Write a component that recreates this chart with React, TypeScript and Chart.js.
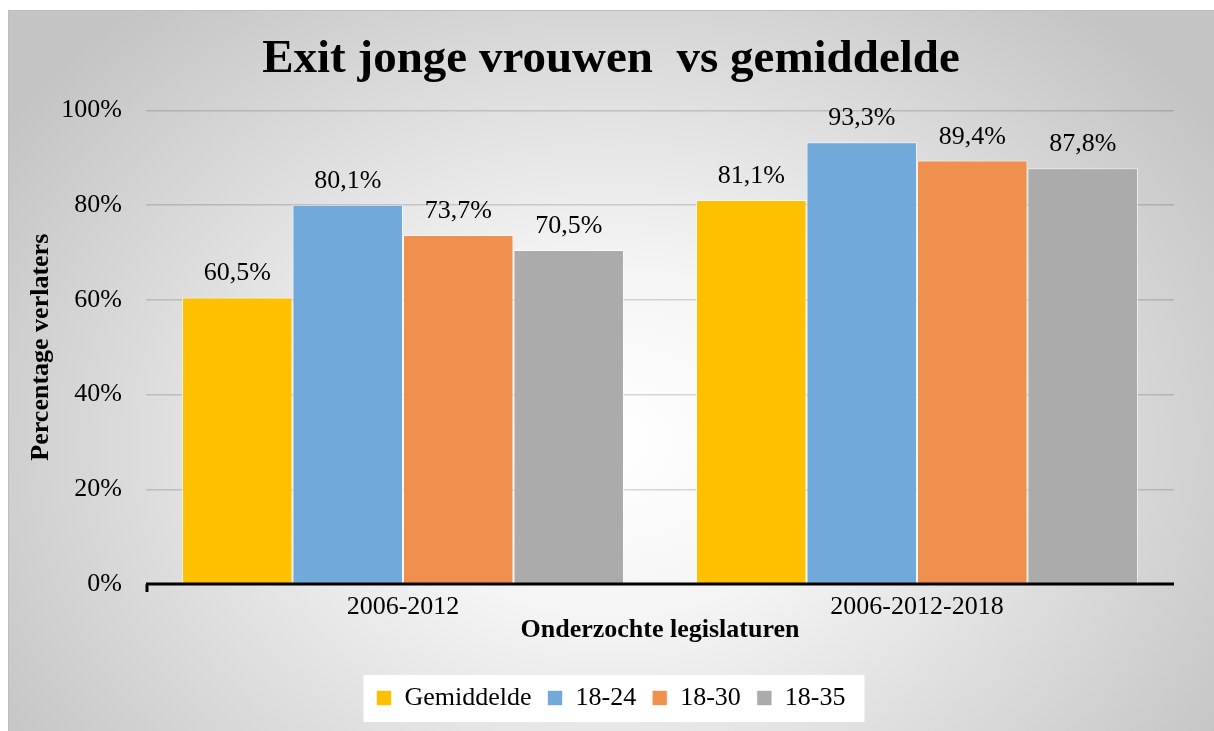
import React, { useEffect, useRef } from 'react';
import { Chart, registerables } from 'chart.js';

Chart.register(...registerables);

const titleText = 'Exit jonge vrouwen  vs gemiddelde';
const categories = ['2006-2012', '2006-2012-2018'];
const seriesNames = ['Gemiddelde', '18-24', '18-30', '18-35'];
const gemiddelde = [60.5, 81.1];
const age18_24 = [80.1, 93.3];
const age18_30 = [73.7, 89.4];
const age18_35 = [70.5, 87.8];
const yTickValues = [0, 20, 40, 60, 80, 100];
const seriesColors = ['#FFC000', '#71A9DB', '#F0904F', '#ABABAB'];
const yTitle = 'Percentage verlaters';
const xTitle = 'Onderzochte legislaturen';

const FONT = "'Liberation Serif', 'Times New Roman', serif";

const fmt = (v: number) => v.toFixed(1).replace('.', ',') + '%';

const legendBoxPlugin = {
  id: 'legendBox',
  beforeDraw(chart: any) {
    const lg = chart.legend;
    if (!lg || !lg.legendHitBoxes || !lg.legendHitBoxes.length) return;
    const hb = lg.legendHitBoxes;
    const first = hb[0];
    const last = hb[hb.length - 1];
    const cy = first.top + first.height / 2;
    const ctx = chart.ctx;
    ctx.save();
    ctx.fillStyle = '#ffffff';
    ctx.fillRect(first.left - 13, cy - 23, last.left + last.width - first.left + 32, 47);
    ctx.restore();
  },
};

const dataLabelPlugin = {
  id: 'dataLabels',
  afterDatasetsDraw(chart: any) {
    const ctx = chart.ctx;
    ctx.save();
    ctx.font = `26px ${FONT}`;
    ctx.fillStyle = '#000';
    ctx.textAlign = 'center';
    ctx.textBaseline = 'alphabetic';
    chart.data.datasets.forEach((ds: any, di: number) => {
      const meta = chart.getDatasetMeta(di);
      meta.data.forEach((el: any, i: number) => {
        ctx.fillText(fmt(ds.data[i]), el.x, el.y - 17);
      });
    });
    ctx.restore();
  },
};

const axisLinePlugin = {
  id: 'axisLine',
  afterDatasetsDraw(chart: any) {
    const { ctx, chartArea } = chart;
    const y = chart.scales.y.getPixelForValue(0);
    ctx.save();
    ctx.strokeStyle = '#000';
    ctx.lineWidth = 3;
    ctx.beginPath();
    ctx.moveTo(chartArea.left, y);
    ctx.lineTo(chartArea.right, y);
    ctx.stroke();
    ctx.beginPath();
    ctx.moveTo(chartArea.left + 1, y);
    ctx.lineTo(chartArea.left + 1, y + 8);
    ctx.stroke();
    ctx.restore();
  },
};

export default function App() {
  const ref = useRef<HTMLCanvasElement | null>(null);

  useEffect(() => {
    if (!ref.current) return;
    const seriesValues = [gemiddelde, age18_24, age18_30, age18_35];
    const chart = new Chart(ref.current, {
      type: 'bar',
      data: {
        labels: categories,
        datasets: seriesNames.map((name, i) => ({
          label: name,
          data: seriesValues[i],
          backgroundColor: seriesColors[i],
          borderColor: 'rgba(255,255,255,0.6)',
          borderWidth: 1,
          categoryPercentage: 0.86,
          barPercentage: 1.0,
        })),
      },
      options: {
        responsive: false,
        animation: false,
        layout: { padding: { left: 40, right: 40, top: 0, bottom: 10 } },
        plugins: {
          title: {
            display: true,
            text: titleText,
            color: '#000',
            font: { family: FONT, size: 47, weight: 'bold', lineHeight: 1.2 },
            padding: { top: 22, bottom: 22 },
          },
          legend: {
            display: true,
            position: 'bottom',
            labels: {
              color: '#000',
              font: { family: FONT, size: 26 },
              boxWidth: 15,
              boxHeight: 15,
              padding: 16,
            },
          },
          tooltip: { enabled: false },
        },
        scales: {
          x: {
            grid: { display: false, drawTicks: false },
            border: { display: false },
            ticks: {
              color: '#000',
              font: { family: FONT, size: 26, lineHeight: 1.0 },
              padding: 10,
            },
            title: {
              display: true,
              text: xTitle,
              color: '#000',
              font: { family: FONT, size: 26, weight: 'bold', lineHeight: 1.0 },
              padding: { top: -13, bottom: 26 },
            },
          },
          y: {
            min: 0,
            max: 100,
            afterBuildTicks: (scale: any) => {
              scale.ticks = yTickValues.map((v) => ({ value: v }));
            },
            afterFit: (scale: any) => {
              scale.width = 98;
            },
            grid: { color: 'rgba(0,0,0,0.15)', lineWidth: 1.5, drawTicks: false },
            border: { display: false },
            ticks: {
              color: '#000',
              font: { family: FONT, size: 26 },
              padding: 24,
              callback: (v: any) => v + '%',
            },
            title: {
              display: true,
              text: yTitle,
              color: '#000',
              font: { family: FONT, size: 26, weight: 'bold', lineHeight: 1.2 },
              padding: { top: -22, bottom: 0 },
            },
          },
        },
      },
      plugins: [legendBoxPlugin, dataLabelPlugin, axisLinePlugin],
    });
    return () => chart.destroy();
  }, []);

  return (
    <div
      style={{
        position: 'absolute',
        left: 8,
        top: 10,
        width: 1206,
        height: 721,
        background:
          'radial-gradient(ellipse 60% 80% at 50% 60%, #ffffff 0%, #f5f5f5 30%, #c4c4c4 100%)',
        boxShadow: 'inset 1px 1px 0 #bdbdbd',
        overflow: 'hidden',
      }}
    >
      <canvas ref={ref} width={1206} height={721} style={{ display: 'block', width: 1206, height: 721 }} />
    </div>
  );
}
